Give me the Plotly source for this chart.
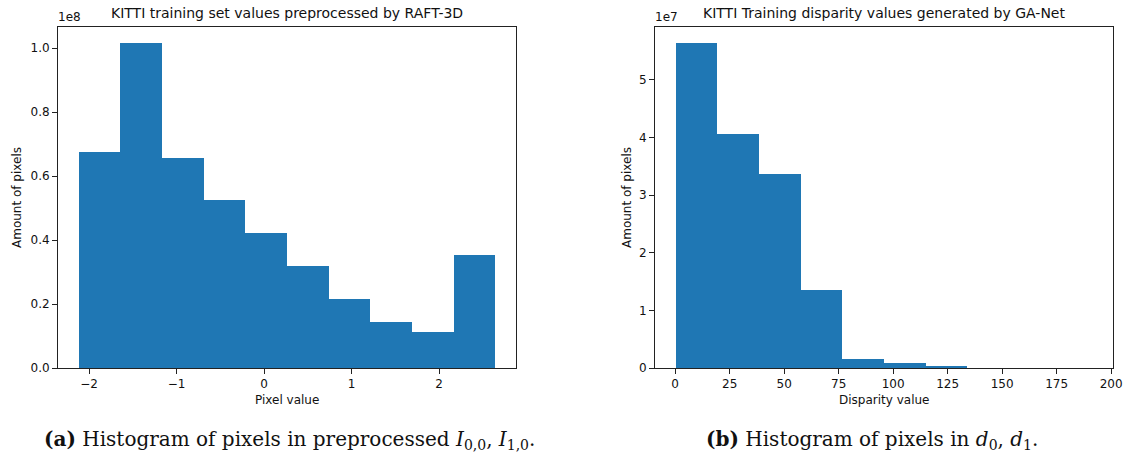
import plotly.graph_objects as go

# ---------------- data ----------------
# Left: KITTI training set values preprocessed by RAFT-3D
left_edges = [-2.118, -1.6422, -1.1664, -0.6906, -0.2148, 0.261, 0.7368, 1.2126, 1.6884, 2.1642, 2.640]
left_counts = [67.3e6, 101.4e6, 65.6e6, 52.4e6, 42.2e6, 31.8e6, 21.4e6, 14.4e6, 11.1e6, 35.3e6]
left_xticks = [-2, -1, 0, 1, 2]
left_xticklabels = ["\u22122", "\u22121", "0", "1", "2"]
left_yticks = [0, 0.2e8, 0.4e8, 0.6e8, 0.8e8, 1.0e8]
left_yticklabels = ["0.0", "0.2", "0.4", "0.6", "0.8", "1.0"]

# Right: KITTI Training disparity values generated by GA-Net
right_edges = [0.3, 19.4, 38.5, 57.6, 76.7, 95.8, 114.9, 134.0, 153.1, 172.2, 191.3]
right_counts = [56.3e6, 40.6e6, 33.6e6, 13.4e6, 1.5e6, 0.78e6, 0.17e6, 0, 0, 0]
right_xticks = [0, 25, 50, 75, 100, 125, 150, 175, 200]
right_yticks = [0, 1e7, 2e7, 3e7, 4e7, 5e7]
right_yticklabels = ["0", "1", "2", "3", "4", "5"]

BLUE = "#1f77b4"
FONT = "DejaVu Sans"
SERIF = "DejaVu Serif"
W, H = 1127, 458


def centers(edges):
    return [(a + b) / 2 for a, b in zip(edges[:-1], edges[1:])]


def widths(edges):
    return [b - a for a, b in zip(edges[:-1], edges[1:])]


fig = go.Figure()
fig.add_trace(go.Bar(x=centers(left_edges), y=left_counts, width=widths(left_edges),
                     marker=dict(color=BLUE, line=dict(width=0)),
                     xaxis="x", yaxis="y", showlegend=False, hoverinfo="x+y"))
fig.add_trace(go.Bar(x=centers(right_edges), y=right_counts, width=widths(right_edges),
                     marker=dict(color=BLUE, line=dict(width=0)),
                     xaxis="x2", yaxis="y2", showlegend=False, hoverinfo="x+y"))


def px_x(p):
    return p / W


def px_y(p):
    return (H - p) / H


axis_common = dict(showline=True, linecolor="#222", linewidth=1, mirror=True,
                   ticks="outside", ticklen=5, tickwidth=1, tickcolor="#222",
                   showgrid=False, zeroline=False, automargin=False,
                   tickfont=dict(family=FONT, size=12, color="#111"))

ydom = [px_y(368), px_y(27.3)]

lmin, lmax = left_edges[0], left_edges[-1]
lm = 0.05 * (lmax - lmin)
rmin, rmax = right_edges[0], right_edges[-1]
rm = 0.05 * (rmax - rmin)

fig.update_layout(
    width=W, height=H, margin=dict(l=0, r=0, t=0, b=0, pad=0, autoexpand=False),
    paper_bgcolor="white", plot_bgcolor="white", bargap=0,
    xaxis=dict(domain=[px_x(58), px_x(516)], anchor="y", range=[lmin - lm, lmax + lm],
               tickvals=left_xticks, ticktext=left_xticklabels, **axis_common),
    yaxis=dict(domain=ydom, anchor="x", range=[0, 1.05 * max(left_counts)],
               tickvals=left_yticks, ticktext=left_yticklabels, **axis_common),
    xaxis2=dict(domain=[px_x(655), px_x(1113)], anchor="y2", range=[rmin - rm, rmax + rm],
                tickvals=right_xticks, **axis_common),
    yaxis2=dict(domain=ydom, anchor="x2", range=[0, 1.05 * max(right_counts)],
                tickvals=right_yticks, ticktext=right_yticklabels, **axis_common),
)


def ann(text, x, y, size=12, family=FONT, xanchor="center", yanchor="middle", angle=0):
    return dict(text=text, x=px_x(x), y=px_y(y), xref="paper", yref="paper",
                xanchor=xanchor, yanchor=yanchor, showarrow=False, textangle=angle,
                font=dict(family=family, size=size, color="#111"))


annotations = [
    ann("KITTI training set values preprocessed by RAFT-3D", 287, 13, size=14),
    ann("KITTI Training disparity values generated by GA-Net", 884, 13, size=14),
    ann("1e8", 56, 17, xanchor="left"),
    ann("1e7", 653, 17, xanchor="left"),
    ann("Pixel value", 287, 400),
    ann("Disparity value", 884, 400),
    ann("Amount of pixels", 17, 198, angle=-90),
    ann("Amount of pixels", 627, 198, angle=-90),
    ann("<b>(a)</b> Histogram of pixels in preprocessed <i>I</i><sub>0,0</sub>, <i>I</i><sub>1,0</sub>.",
        289, 440, size=20, family=SERIF),
    ann("<b>(b)</b> Histogram of pixels in <i>d</i><sub>0</sub>, <i>d</i><sub>1</sub>.",
        872, 440, size=20, family=SERIF),
]
fig.update_layout(annotations=annotations)

fig.write_html("out.html")
